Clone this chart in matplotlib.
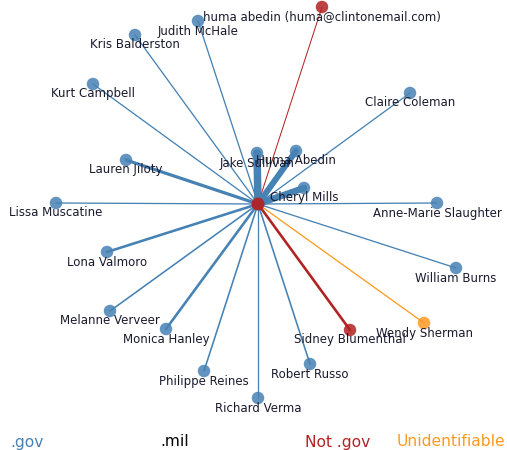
import numpy as np
import matplotlib
matplotlib.use('Agg')
import matplotlib.pyplot as plt

# Colours by email domain class
GOV = '#4682b4'
MIL = '#000000'
NOTGOV = '#b22222'
UNK = '#ff9a1f'
COLORS = {'gov': GOV, 'mil': MIL, 'not': NOTGOV, 'unk': UNK}

# hub position (layout units, y down)
hub = (258, 204)

names = ['huma abedin (huma@clintonemail.com)', 'Judith McHale', 'Kris Balderston',
         'Kurt Campbell', 'Claire Coleman', 'Jake Sullivan', 'Huma Abedin',
         'Lauren Jiloty', 'Cheryl Mills', 'Lissa Muscatine', 'Anne-Marie Slaughter',
         'Lona Valmoro', 'William Burns', 'Melanne Verveer', 'Monica Hanley',
         'Wendy Sherman', 'Sidney Blumenthal', 'Robert Russo', 'Philippe Reines',
         'Richard Verma']
node_x = [322, 198, 135, 93, 410, 257, 296, 126, 304, 56, 437,
          107, 456, 110, 166, 424, 350, 310, 204, 258]
node_y = [7, 21, 35, 84, 93, 153, 151, 160, 188, 203, 203,
          252, 268, 311, 329, 323, 330, 364, 371, 398]
domain = ['not', 'gov', 'gov', 'gov', 'gov', 'gov', 'gov', 'gov', 'gov', 'gov', 'gov',
          'gov', 'gov', 'gov', 'gov', 'unk', 'not', 'gov', 'gov', 'gov']
# relative email counts -> edge width
weight = [1.0, 1.3, 1.3, 1.3, 1.3, 7.5, 6.0, 3.2, 6.5, 1.3, 1.3,
          2.6, 1.3, 1.6, 2.6, 1.3, 2.6, 1.6, 1.6, 1.3]

W, H = 507, 450
fig = plt.figure(figsize=(W / 100, H / 100), dpi=100)
ax = fig.add_axes([0, 0, 1, 1])
ax.set_xlim(0, W); ax.set_ylim(H, 0)
ax.axis('off')

px = 0.72  # px -> pt at 100 dpi
for x, y, d, w in zip(node_x, node_y, domain, weight):
    ax.plot([hub[0], x], [hub[1], y], color=COLORS[d], lw=w * px,
            solid_capstyle='round', zorder=1)
for x, y, d in zip(node_x, node_y, domain):
    ax.scatter(x, y, s=(12.5 * px) ** 2, color=COLORS[d], alpha=0.85,
               edgecolor='none', zorder=2)
ax.scatter(*hub, s=(13 * px) ** 2, color=NOTGOV, alpha=0.95, edgecolor='none', zorder=3)

for n, x, y in zip(names, node_x, node_y):
    ax.text(x, y + 10, n, ha='center', va='center', fontsize=8.5,
            color='#1a1a2e', zorder=4)

legend_items = [('.gov', GOV, 10), ('.mil', MIL, 160), ('Not .gov', NOTGOV, 305),
                ('Unidentifiable', UNK, 397)]
for lab, c, lx in legend_items:
    ax.text(lx, 442, lab, ha='left', va='center', fontsize=11.2, color=c)

plt.savefig('out.png', dpi=100)
